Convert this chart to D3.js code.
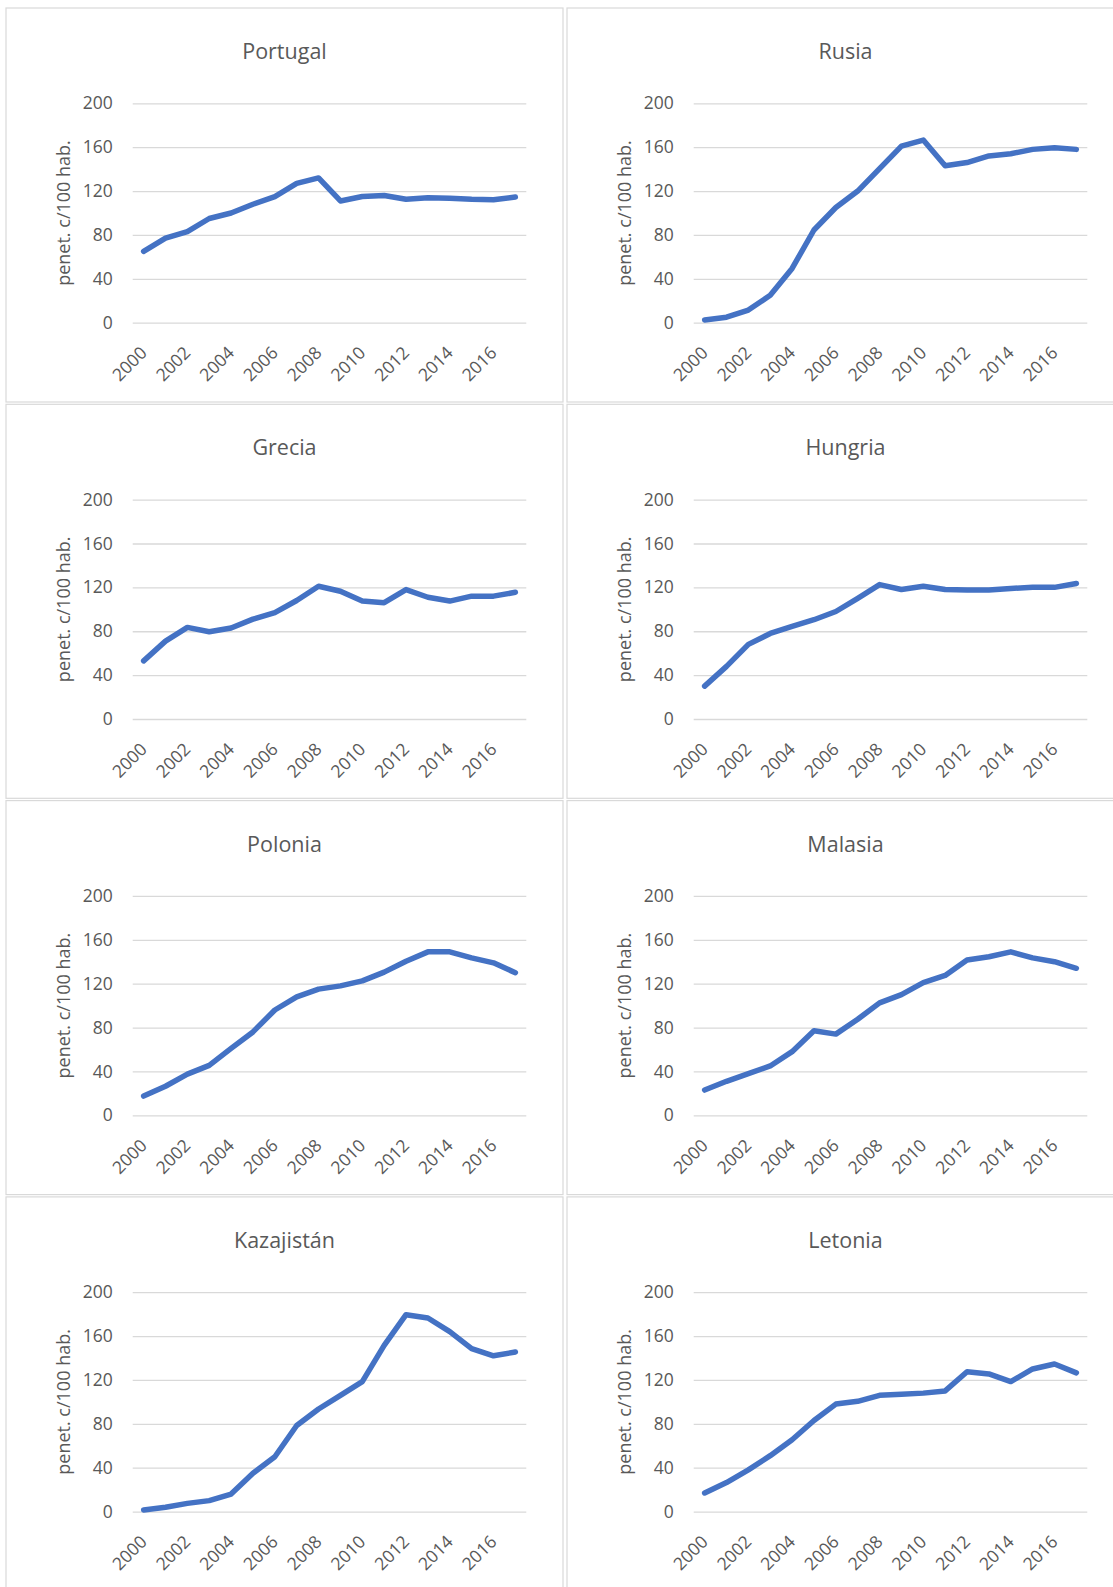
<!DOCTYPE html>
<html lang="es">
<head>
<meta charset="utf-8">
<title>Penetración de telefonía móvil</title>
<script src="https://cdn.jsdelivr.net/npm/d3@7"></script>
<style>
  html, body { margin: 0; padding: 0; background: #ffffff; }
  svg { display: block; font-family: "Open Sans", "Noto Sans", sans-serif; }
</style>
</head>
<body>
<svg id="grid" width="1113" height="1587"></svg>
<script>
// Years on the category axis and the labelled subset
const years = ["2000","2001","2002","2003","2004","2005","2006","2007","2008",
               "2009","2010","2011","2012","2013","2014","2015","2016","2017"];
const yearTicks = ["2000","2002","2004","2006","2008","2010","2012","2014","2016"];
const valueTicks = [0, 40, 80, 120, 160, 200];
const axisTitle = "penet. c/100 hab.";

// Subscriptions per 100 inhabitants, one series per country
const countries = ["Portugal", "Rusia", "Grecia", "Hungria", "Polonia", "Malasia", "Kazajistán", "Letonia"];
const portugal   = [65, 77, 83, 95, 100, 108, 115, 127, 132, 111, 115, 116, 112.5, 114, 113.5, 112.5, 112, 114.5];
const rusia      = [2.5, 5, 11.5, 25, 49.5, 84.5, 105, 120, 140.5, 161, 166.5, 143, 146, 152, 154, 158, 159.5, 158];
const grecia     = [53, 71, 83.5, 79.5, 83, 91, 97, 108, 121, 116.5, 107.5, 106, 118, 111, 107.5, 112, 112, 115.5];
const hungria    = [30, 48, 68, 78, 84.5, 90.5, 98, 110, 122.5, 118, 121, 118, 117.5, 117.5, 119, 120, 120, 123.5];
const polonia    = [17.5, 26.5, 37.5, 45.5, 61, 76, 96, 108, 115, 118, 122.5, 130.5, 140.5, 149, 149, 143.5, 139, 130];
const malasia    = [23, 31, 38, 45, 58, 77, 74, 87.5, 102.5, 110, 121, 127.5, 141.5, 144.5, 149, 143.5, 140, 134];
const kazajistan = [1.5, 4, 7.5, 10, 16, 35, 50, 78.5, 93.5, 106, 118.5, 151.5, 179.5, 176.5, 164, 148.5, 142, 145.5];
const letonia    = [17, 26.5, 38, 51, 65.5, 83, 98, 100.5, 106, 107, 108, 110, 127.5, 125.5, 118.5, 130, 134.5, 126.5];

const seriesList = [portugal, rusia, grecia, hungria, polonia, malasia, kazajistan, letonia];

// Panel geometry
const colX = [6, 567];
const rowY = [8, 404.3, 800.6, 1196.9];
const panelW = 557, panelH = 394;
const plot = { left: 126.7, right: 520.3, top: 95.3, bottom: 314.7 };
const plotW = plot.right - plot.left, plotH = plot.bottom - plot.top;

const textColor = "#595959";
const gridColor = "#d9d9d9";
const lineColor = "#4472c4";

const svg = d3.select("#grid");

const x = d3.scaleBand().domain(years).range([0, plotW]);
const y = d3.scaleLinear().domain([0, 200]).range([plotH, 0]);

const line = d3.line()
  .x((d, i) => x(years[i]) + x.bandwidth() / 2)
  .y(d => y(d));

countries.forEach((name, k) => {
  const px = colX[k % 2], py = rowY[Math.floor(k / 2)];
  const g = svg.append("g").attr("transform", `translate(${px},${py})`);

  // chart frame
  g.append("rect")
    .attr("x", 0).attr("y", 0)
    .attr("width", panelW).attr("height", panelH)
    .attr("fill", "#ffffff")
    .attr("stroke", gridColor).attr("stroke-width", 1.2);

  // title
  g.append("text")
    .attr("x", panelW / 2).attr("y", 51)
    .attr("text-anchor", "middle")
    .attr("fill", textColor)
    .attr("font-size", 21.5)
    .text(name);

  const pg = g.append("g").attr("transform", `translate(${plot.left},${plot.top})`);

  // value axis with gridlines
  const yAxis = pg.append("g")
    .call(d3.axisLeft(y).tickValues(valueTicks).tickSize(-plotW).tickPadding(20));
  yAxis.select(".domain").remove();
  yAxis.selectAll(".tick line").attr("stroke", gridColor).attr("stroke-width", 1.3);
  yAxis.selectAll(".tick text")
    .attr("fill", textColor)
    .attr("font-size", 17.5)
    .attr("font-family", "Open Sans, Noto Sans, sans-serif");

  // category axis with slanted year labels
  const xAxis = pg.append("g")
    .attr("transform", `translate(0,${plotH})`)
    .call(d3.axisBottom(x).tickValues(yearTicks).tickSize(0));
  xAxis.select(".domain").remove();
  xAxis.selectAll(".tick text")
    .attr("x", 0).attr("y", 0).attr("dy", "0.35em")
    .attr("text-anchor", "end")
    .attr("transform", "translate(0,27) rotate(-45)")
    .attr("fill", textColor)
    .attr("font-size", 17.5)
    .attr("font-family", "Open Sans, Noto Sans, sans-serif");

  // vertical axis title
  g.append("text")
    .attr("transform", `translate(58,${plot.top + plotH / 2}) rotate(-90)`)
    .attr("text-anchor", "middle")
    .attr("dy", "0.35em")
    .attr("fill", textColor)
    .attr("font-size", 18)
    .text(axisTitle);

  // series line
  pg.append("path")
    .datum(seriesList[k])
    .attr("fill", "none")
    .attr("stroke", lineColor)
    .attr("stroke-width", 5.5)
    .attr("stroke-linejoin", "round")
    .attr("stroke-linecap", "round")
    .attr("d", line);
});
</script>
</body>
</html>
